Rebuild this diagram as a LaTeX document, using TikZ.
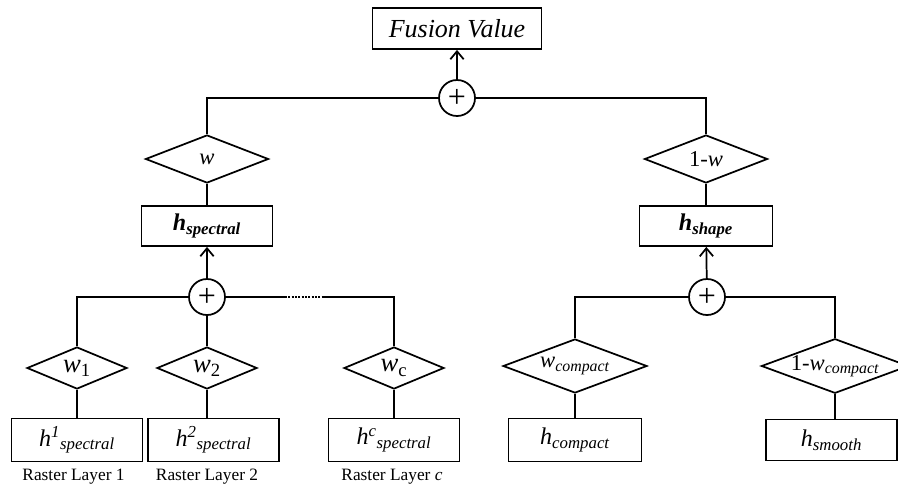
\documentclass[tikz,border=0pt]{standalone}
\usepackage{fontspec}
\setmainfont{Liberation Serif}
\usepackage{tikz}
\usetikzlibrary{arrows.meta}
\usetikzlibrary{shapes.geometric}
\tikzset{>={Straight Barb[length=6pt, width=10pt]}}
\tikzset{
    box/.style={draw, line width=1.4pt, inner sep=0pt, minimum width=98.25pt, minimum height=32.25pt, font=\fontsize{18}{20}\selectfont\itshape},
    gate/.style={diamond, draw, line width=1.3pt, inner sep=0pt, shape aspect=2.7, minimum width=75pt, minimum height=31.5pt, font=\fontsize{17}{19}\selectfont\itshape},
    sum/.style={circle, draw, line width=1.3pt, inner sep=0pt, minimum size=27pt, font=\fontsize{24}{24}\selectfont},
    layer/.style={inner sep=0pt, anchor=north, font=\fontsize{13}{15}\selectfont}
}

\begin{document}
\begin{tikzpicture}[x=0.75pt, y=-0.75pt, line width=1.3pt]
    \useasboundingbox(0, 0)rectangle(898, 486);
    \node[box, minimum width=126.75pt, minimum height=30.75pt, font=\fontsize{19.5}{21}\selectfont\itshape](fv)at(457, 28.5){Fusion Value};
    \node[sum](top)at(457, 98){+};
    \node[gate, minimum width=92.25pt, minimum height=36pt](w)at(207, 159){w};
    \node[gate, minimum width=92.25pt, minimum height=36pt](nw)at(706, 159){{\upshape 1-}w};
    \node[box, minimum height=30pt, font=\fontsize{18}{20}\selectfont\bfseries\itshape](hspec)at(207, 226){h\textsubscript{spectral}};
    \node[box, minimum width=99.75pt, minimum height=30pt, font=\fontsize{18}{20}\selectfont\bfseries\itshape](hshape)at(706, 226){h\textsubscript{shape}};
    \node[sum](ls)at(207, 297){+};
    \node[sum](rs)at(707, 297){+};
    \coordinate(d1)at(285, 297);
    \coordinate(d2)at(322, 297);
    \node[gate, font=\fontsize{20}{22}\selectfont\itshape](w1)at(77, 368){w\textsubscript{\upshape 1}};
    \node[gate, font=\fontsize{20}{22}\selectfont\itshape](w2)at(207, 368){w\textsubscript{\upshape 2}};
    \node[gate, font=\fontsize{20}{22}\selectfont\itshape](wc)at(394, 368){w\textsubscript{\upshape c}};
    \node[gate, minimum width=108pt, minimum height=40.5pt](wcomp)at(575, 366){w\textsubscript{compact}};
    \node[gate, minimum width=108pt, minimum height=40.5pt](nwcomp)at(835, 366){{\upshape 1-}w\textsubscript{compact}};
    \node[box](h1)at(77, 440){h\textsuperscript{1}\textsubscript{spectral}};
    \node[box](h2)at(213.5, 440){h\textsuperscript{2}\textsubscript{spectral}};
    \node[box](hc)at(394, 440){h\textsuperscript{c}\textsubscript{spectral}};
    \node[box, minimum width=99.75pt](hcomp)at(575, 440){h\textsubscript{compact}};
    \node[box, minimum height=30.75pt](hsmooth)at(831.5, 440){h\textsubscript{smooth}};
    \node[layer](r1)at(73.5, 468){Raster Layer 1};
    \node[layer](r2)at(207, 468){Raster Layer 2};
    \node[layer](rc)at(392, 468){Raster Layer \textit{c}};
    \draw[->](top)--(fv);
    \draw(top.west)-|(w.north);
    \draw(top.east)-|(nw.north);
    \draw(w)--(hspec);
    \draw(nw)--(hshape);
    \draw[->](ls)--(hspec);
    \draw[->](rs)--(hshape);
    \draw(ls.west)-|(w1.north);
    \draw(ls)--(w2);
    \draw(ls.east)--(d1);
    \draw[dash pattern=on 1.5pt off 1pt](d1)--(d2);
    \draw(d2)-|(wc.north);
    \draw(rs.west)-|(wcomp.north);
    \draw(rs.east)-|(nwcomp.north);
    \draw(w1)--(h1);
    \draw(w2.south)--(w2.south|-h2.north);
    \draw(wc)--(hc);
    \draw(wcomp)--(hcomp);
    \draw(nwcomp.south)--(nwcomp.south|-hsmooth.north);
\end{tikzpicture}
\end{document}
